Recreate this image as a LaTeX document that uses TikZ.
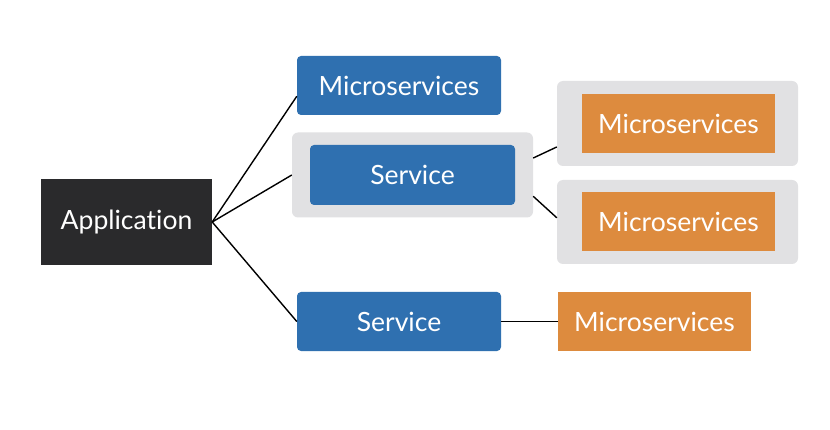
\documentclass[tikz,border=0pt]{standalone}
\usepackage{fontspec}
\setmainfont{Lato}[Ligatures=NoCommon]

\definecolor{appblack}{RGB}{42,42,44}
\definecolor{svcblue}{RGB}{47,112,176}
\definecolor{msorange}{RGB}{221,139,62}
\definecolor{groupgray}{RGB}{225,225,227}

\tikzset{
  box/.style={text=white, inner sep=0pt, font=\fontsize{26.5}{30}\selectfont},
  appbox/.style={box, fill=appblack, minimum width=171pt, minimum height=86pt},
  bluebox/.style={box, fill=svcblue, rounded corners=4pt, minimum width=204pt, minimum height=59pt},
  orangebox/.style={box, fill=msorange, minimum width=193pt, minimum height=59pt},
  graybox/.style={fill=groupgray, rounded corners=6pt, inner sep=0pt, minimum width=241pt, minimum height=85pt},
  link/.style={line width=1.4pt, black}
}

\begin{document}
\begin{tikzpicture}[x=1pt, y=-1pt]

  \useasboundingbox[fill=white] (0,0) rectangle (830,430);

  % Application
  \node[appbox] (app) at (126.5,222) {Application};

  % Middle column
  \node[bluebox] (micro) at (399,85.5) {Microservices};
  \node[graybox] (svcgroup) at (412.5,175) {};
  \node[bluebox, minimum width=205pt, minimum height=60pt] (svc) at (412.5,175) {Service};
  \node[bluebox] (svcb) at (399,321.5) {Service};

  % Right column
  \node[graybox] (groupa) at (677.5,123.5) {};
  \node[orangebox] (microa) at (678.5,123.5) {Microservices};
  \node[graybox, minimum height=84pt] (groupb) at (677.5,222) {};
  \node[orangebox] (microb) at (678.5,221.5) {Microservices};
  \node[orangebox] (microc) at (654.5,321.5) {Microservices};

  % Connectors
  \draw[link] (app.east) -- (micro.186);
  \draw[link] (app.east) -- (svcgroup.west);
  \draw[link] (app.east) -- (svcb.west);
  \draw[link] (svcgroup.8) -- (groupa.191);
  \draw[link] (svcgroup.350) -- (groupb.178);
  \draw[link] (svcb.east) -- (microc.west);

\end{tikzpicture}
\end{document}
